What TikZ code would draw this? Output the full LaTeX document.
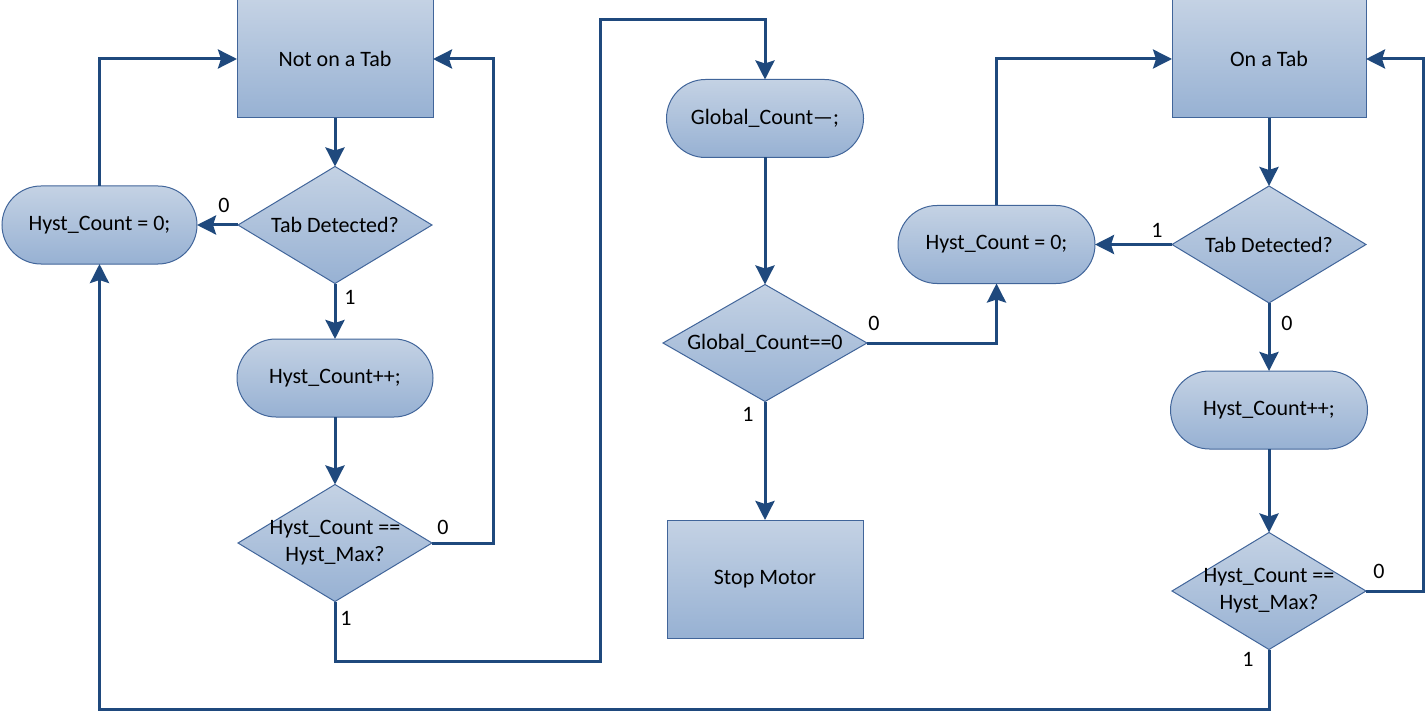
\documentclass[tikz,border=0pt]{standalone}
\usepackage{fontspec}
\setmainfont{Carlito}
\usetikzlibrary{shapes.geometric,arrows.meta}
\definecolor{cblue}{HTML}{1F497D}
\definecolor{edgeblue}{HTML}{41659A}
\definecolor{ftop}{HTML}{C4D2E4}
\definecolor{fbot}{HTML}{97B1D3}
\begin{document}
\begin{tikzpicture}[x=0.5pt,y=-0.5pt,
  font=\fontsize{11}{13.5}\selectfont,
  shp/.style={draw=edgeblue, line width=0.5pt, top color=ftop, bottom color=fbot, inner sep=0, outer sep=0},
  box/.style={shp, minimum width=98pt, minimum height=59pt},
  term/.style={shp, rounded corners=19.5pt, minimum width=98pt, minimum height=39pt},
  dia/.style={shp, diamond, minimum width=97pt, minimum height=58.5pt},
  txt/.style={align=center, inner sep=0},
  conn/.style={draw=cblue, line width=1.5pt},
  arr/.style={conn, -{Stealth[length=9.5pt,width=9.5pt,inset=1.5pt]}},
  lab/.style={inner sep=0}
]
\useasboundingbox (0,0) rectangle (1428,711);

% left column
\node[box] (r1) at (335,59) {Not on a Tab};
\node[dia] (d1) at (335,225) {};
\node[txt] (d1t) at (d1) {Tab Detected?};
\node[term, minimum width=97.5pt] (t1) at (99.5,225) {Hyst\_Count = 0;};
\node[term] (h1) at (335,378) {Hyst\_Count++;};
\node[dia] (d2) at (335,543) {};
\node[txt] (d2t) at (d2) {Hyst\_Count ==\\Hyst\_Max?};

% middle column
\node[term, minimum width=98.5pt] (g1) at (765,118.5) {Global\_Count—;};
\node[dia, minimum width=102pt] (g2) at (765,343) {};
\node[txt] (g2t) at (g2) {Global\_Count==0};
\node[box] (s1) at (765,579) {Stop Motor};

% right column
\node[term, minimum width=98.5pt] (t2) at (996.5,244.5) {Hyst\_Count = 0;};
\node[box, minimum width=97pt] (r2) at (1269,59) {On a Tab};
\node[dia] (d3) at (1269,244.5) {};
\node[txt] (d3t) at (d3) {Tab Detected?};
\node[term, minimum width=98.5pt] (h2) at (1269,410) {Hyst\_Count++;};
\node[dia] (d4) at (1269,591) {};
\node[txt] (d4t) at (d4) {Hyst\_Count ==\\Hyst\_Max?};

% junction coordinates
\coordinate (c1) at (600,661);
\coordinate (c2) at (600,20);
\coordinate (c3) at (99.5,709);

% connectors left
\draw[arr] (r1.south) -- (d1.north);
\draw[arr] (d1.west) -- (t1.east);
\draw[arr] (t1.north) |- (r1.west);
\draw[arr] (d1.south) -- (h1.north);
\draw[arr] (h1.south) -- (d2.north);
\draw[arr] (d2.east) -- ++(61,0) |- (r1.east);
\draw[arr] (d2.south) |- (c1) -- (c2) -| (g1.north);

% connectors middle
\draw[arr] (g1.south) -- (g2.north);
\draw[arr] (g2.east) -| (t2.south);
\draw[arr] (g2.south) -- (s1.north);

% connectors right
\draw[arr] (t2.north) |- (r2.west);
\draw[arr] (r2.south) -- (d3.north);
\draw[arr] (d3.west) -- (t2.east);
\draw[arr] (d3.south) -- (h2.north);
\draw[arr] (h2.south) -- (d4.north);
\draw[arr] (d4.east) -- ++(57.5,0) |- (r2.east);
\draw[arr] (d4.south) |- (c3) -- (t1.south);

% labels
\node[lab] (l1) at (224,205) {0};
\node[lab] (l2) at (350,297) {1};
\node[lab] (l3) at (443,527) {0};
\node[lab] (l4) at (346,618) {1};
\node[lab] (l5) at (874,323) {0};
\node[lab] (l6) at (748,414) {1};
\node[lab] (l7) at (1157,230) {1};
\node[lab] (l8) at (1287,323) {0};
\node[lab] (l9) at (1379,571) {0};
\node[lab] (l10) at (1248,659) {1};
\end{tikzpicture}
\end{document}
